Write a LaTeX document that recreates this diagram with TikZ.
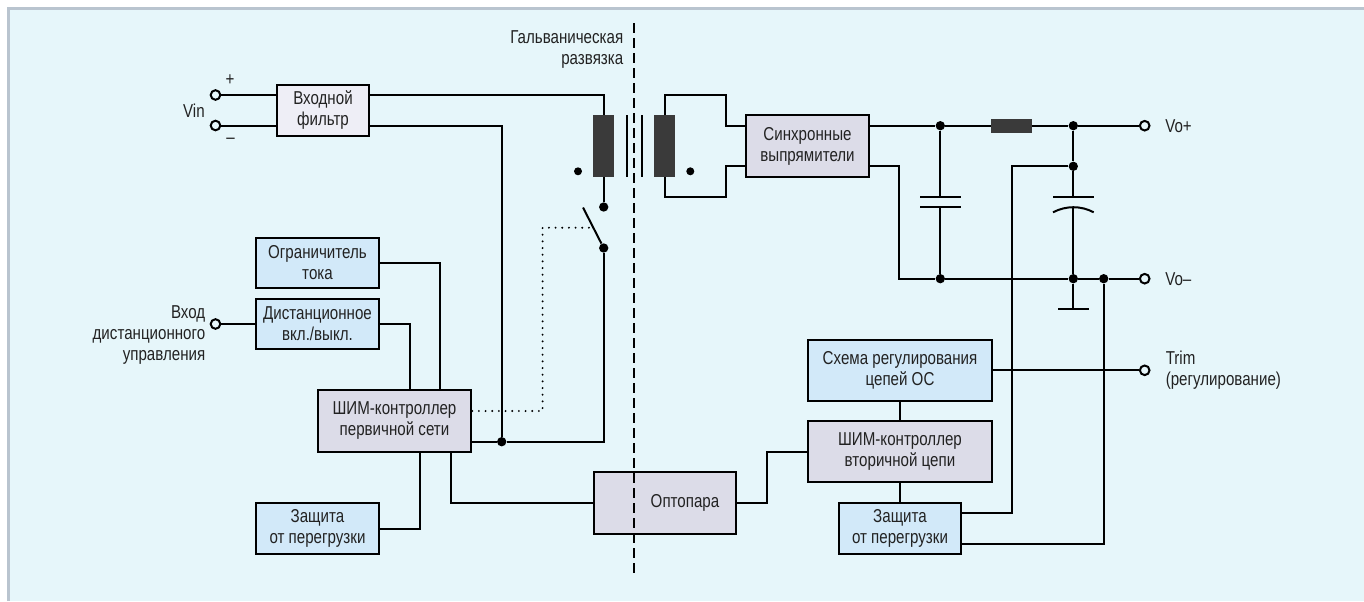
\documentclass[tikz,border=0pt]{standalone}
\usepackage{fontspec}
\setmainfont{Liberation Sans}[FakeStretch=0.81]
\usetikzlibrary{positioning}
\definecolor{panelbg}{HTML}{E6F6FA}
\definecolor{panelline}{HTML}{B9C4CF}
\definecolor{bluefill}{HTML}{D2E9F9}
\definecolor{greyfill}{HTML}{DCDCE8}
\definecolor{palefill}{HTML}{EEEEF6}
\definecolor{coilfill}{HTML}{3A3A3A}
\definecolor{inktext}{HTML}{222222}
\tikzset{
	wire/.style={line width=1.5pt, draw=black},
	dotwire/.style={line width=1.6pt, draw=black, line cap=round, dash pattern=on 0pt off 5pt},
	isolation/.style={line width=1.5pt, draw=black, dash pattern=on 7.5pt off 3.75pt},
	block/.style={draw=black, line width=1.6pt, inner sep=0pt, align=center, text=inktext,
		font=\fontsize{14}{15.75}\selectfont},
	blueblock/.style={block, fill=bluefill},
	greyblock/.style={block, fill=greyfill},
	paleblock/.style={block, fill=palefill},
	coil/.style={fill=coilfill, draw=none, inner sep=0pt, minimum width=15.75pt, minimum height=46.5pt},
	resistor/.style={fill=coilfill, draw=none, inner sep=0pt, minimum width=30.75pt, minimum height=10.5pt},
	junction/.style={circle, fill=black, draw=none, inner sep=0pt, minimum size=7pt},
	smalldot/.style={circle, fill=black, draw=none, inner sep=0pt, minimum size=6pt},
	terminal/.style={circle, fill=panelbg, draw=black, line width=1.5pt, inner sep=0pt, minimum size=7.2pt},
	tag/.style={text=inktext, inner sep=0pt, font=\fontsize{14}{15.75}\selectfont},
}
\begin{document}
\begin{tikzpicture}[x=0.75pt, y=-0.75pt]
	\path[use as bounding box] (0,0) rectangle (1364,601);
	\fill[panelbg] (8,9) rectangle (1364,601);
	\draw[panelline, line width=2pt] (8.4,601) -- (8.4,8.6) -- (1364,8.6);
	% blocks
	\node[paleblock, minimum width=69pt, minimum height=38pt] (filter) at (323,110.5) {Входной\\фильтр};
	\node[blueblock, minimum width=92pt, minimum height=38pt] (limiter) at (317.5,263) {Ограничитель\\тока};
	\node[blueblock, minimum width=92pt, minimum height=38pt] (remote) at (317.5,324) {Дистанционное\\вкл./выкл.};
	\node[greyblock, minimum width=115pt, minimum height=46pt] (pwmprim) at (394.5,421) {ШИМ-контроллер\\первичной сети};
	\node[blueblock, minimum width=92pt, minimum height=38pt] (protprim) at (317.5,528.5) {Защита\\от перегрузки};
	\node[greyblock, minimum width=107pt, minimum height=46pt] (opto) at (665,503) {\hspace*{30pt}Оптопара};
	\node[greyblock, minimum width=92pt, minimum height=46pt] (rect) at (807.5,146) {Синхронные\\выпрямители};
	\node[blueblock, minimum width=138pt, minimum height=46pt] (fbloop) at (900,370.3) {Схема регулирования\\цепей ОС};
	\node[greyblock, minimum width=138pt, minimum height=46pt] (pwmsec) at (900,451.7) {ШИМ-контроллер\\вторичной цепи};
	\node[blueblock, minimum width=92pt, minimum height=38pt] (protsec) at (900,528.5) {Защита\\от перегрузки};
	% terminals
	\node[terminal] (vinp) at (215.5,95) {};
	\node[terminal] (vinm) at (215.5,125.5) {};
	\node[terminal] (rem) at (215.5,324) {};
	\node[terminal] (voutp) at (1144.7,125.7) {};
	\node[terminal] (voutm) at (1144.7,278.7) {};
	\node[terminal] (trim) at (1144.7,370.3) {};
	% transformer
	\node[coil] (prim) at (603.7,146) {};
	\node[coil] (sec) at (664.7,146) {};
	\node[smalldot] (primdot) at (578,171.3) {};
	\node[smalldot] (secdot) at (690.3,171.3) {};
	\draw[wire] (626.7,115) -- (626.7,177);
	\draw[wire] (641.7,115) -- (641.7,177);
	% isolation line
	\coordinate (isotop) at (634,23);
	\coordinate (isobot) at (634,573);
	% junctions
	\node[junction] (swup) at (603.7,207) {};
	\node[junction] (swdn) at (603.7,248) {};
	\node[junction] (gnd) at (501.7,441.7) {};
	\node[junction] (jcap) at (940.3,125.7) {};
	\node[junction] (jout) at (1073.3,125.7) {};
	\node[junction] (jprot) at (1073.3,166.3) {};
	\node[junction] (jcapm) at (940.3,278.7) {};
	\node[junction] (joutm) at (1073.3,278.7) {};
	\node[junction] (jprotm) at (1103.7,278.7) {};
	\node[resistor] (choke) at (1011.5,125.7) {};
	% input side
	\draw[wire] (vinp) -- (vinp -| filter.west);
	\draw[wire] (vinm) -- (vinm -| filter.west);
	\draw[wire] (vinp -| filter.east) -- (vinp -| prim) -- (prim.north);
	\draw[wire] (vinm -| filter.east) -- (vinm -| gnd) -- (gnd);
	\draw[wire] (prim.south) -- (swup);
	\coordinate (swarm) at (583,207.5);
	\draw[wire] (swarm) -- (swdn);
	\draw[wire] (swdn) -- (gnd -| swdn) -- (gnd);
	\draw[wire] (gnd) -- (gnd -| pwmprim.east);
	% left column
	\draw[wire] (rem) -- (remote.west);
	\draw[wire] (remote.east) -- (remote.east -| 410,0) -- (410,390);
	\draw[wire] (limiter.east) -- (limiter.east -| 440,0) -- (440,390);
	\draw[wire] (420,452) -- (420,528.5) -- (protprim.east);
	\draw[wire] (450.7,452) -- (450.7,503) -- (opto.west);
	% control of the switch
	\coordinate (swctl) at (593,227.7);
	\draw[dotwire] (pwmprim.east |- 0,411) -- (542.6,411) -- (542.6,227.7) -- (swctl);
	% secondary side
	\draw[wire] (sec.north) -- (664.7,95) -- (726.3,95) -- (726.3,125.5) -- (rect.west |- 0,125.5);
	\draw[wire] (sec.south) -- (664.7,197) -- (726.3,197) -- (726.3,166) -- (rect.west |- 0,166);
	\draw[wire] (rect.east |- jcap) -- (jcap) -- (choke) -- (jout) -- (voutp);
	\draw[wire] (rect.east |- jprot) -- (899.3,166.3) -- (899.3,278.7) -- (jcapm) -- (joutm) -- (jprotm) -- (voutm);
	\draw[wire] (jout) -- (jprot);
	% capacitors
	\coordinate (capa) at (940.3,197);
	\coordinate (capb) at (940.3,207);
	\draw[wire] (jcap) -- (capa);
	\draw[wire] (capb) -- (jcapm);
	\draw[wire] (920,197) -- (961,197);
	\draw[wire] (920,207) -- (961,207);
	\coordinate (capc) at (1073.3,197);
	\coordinate (capd) at (1073.3,207);
	\draw[wire] (jprot) -- (capc);
	\draw[wire] (capd) -- (joutm);
	\draw[wire] (1053,197) -- (1093.7,197);
	\draw[wire] (1053,212.3) .. controls (1066,205.5) and (1081,205.5) .. (1093.7,212.3);
	\coordinate (earth) at (1073.3,309.3);
	\draw[wire] (joutm) -- (earth);
	\draw[wire] (1058,309.3) -- (1088.7,309.3);
	% feedback
	\draw[wire] (fbloop.east) -- (trim);
	\draw[wire] (fbloop) -- (pwmsec);
	\draw[wire] (pwmsec) -- (protsec);
	\draw[wire] (opto.east) -- (767,503) -- (767,451.7) -- (pwmsec.west);
	\draw[wire] (protsec.east |- 0,513) -- (1012,513) -- (1012,166.3) -- (jprot);
	\draw[wire] (protsec.east |- 0,543.7) -- (1103.7,543.7) -- (jprotm);
	\draw[isolation] (isotop) -- (isobot);
	% texts
	\node[tag, anchor=east] (vinlbl) at (205,111) {Vin};
	\node[tag] (plus) at (230,80) {+};
	\node[tag] (minus) at (230.5,141) {–};
	\node[tag, anchor=east, align=right] (isolbl) at (623.5,50) {Гальваническая\\развязка};
	\node[tag, anchor=east, align=right] (remlbl) at (205.5,335.5) {Вход\\дистанционного\\управления};
	\node[tag, anchor=west] (voplbl) at (1165,126.5) {Vo+};
	\node[tag, anchor=west] (vomlbl) at (1165,279.5) {Vo–};
	\node[tag, anchor=west, align=left] (trimlbl) at (1165.5,370) {Trim\\(регулирование)};
\end{tikzpicture}
\end{document}
